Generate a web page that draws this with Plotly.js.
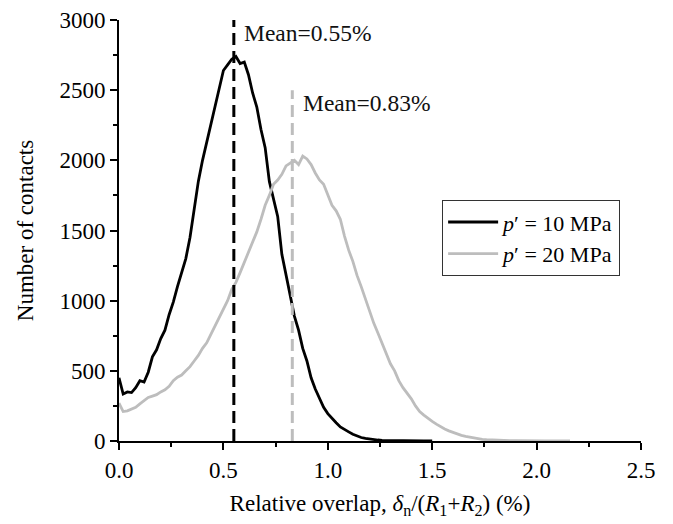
<!DOCTYPE html>
<html>
<head>
<meta charset="utf-8">
<script src="https://cdn.plot.ly/plotly-3.0.1.min.js"></script>
<style>html,body{margin:0;padding:0;background:#fff;}#chart{width:673px;height:524px;}</style>
</head>
<body>
<div id="chart"></div>
<script>
// Relative overlap (%) bins and contact counts
const overlap10 = [0.00,0.02,0.04,0.06,0.08,0.10,0.12,0.14,0.16,0.18,0.20,0.22,0.24,0.26,0.28,0.30,0.32,0.34,0.36,0.38,0.40,0.42,0.44,0.46,0.48,0.50,0.52,0.54,0.56,0.58,0.60,0.62,0.64,0.66,0.68,0.70,0.72,0.74,0.76,0.78,0.80,0.82,0.84,0.86,0.88,0.90,0.92,0.94,0.96,0.98,1.00,1.02,1.04,1.06,1.08,1.10,1.12,1.14,1.16,1.18,1.20,1.22,1.24,1.26,1.28,1.30,1.32,1.34,1.36,1.38,1.40,1.42,1.44,1.46,1.48,1.50];
const counts10 = [450,335,350,345,380,430,420,490,600,650,730,790,900,990,1100,1200,1300,1450,1660,1850,2000,2130,2270,2400,2520,2640,2680,2720,2740,2690,2700,2610,2480,2380,2220,2090,1850,1730,1600,1330,1180,1030,890,790,660,570,450,370,300,240,195,160,130,100,80,65,48,35,25,18,13,10,7,5,4,3,2,2,1,1,1,0,0,0,0,0];
const overlap20 = [0.00,0.02,0.04,0.06,0.08,0.10,0.12,0.14,0.16,0.18,0.20,0.22,0.24,0.26,0.28,0.30,0.32,0.34,0.36,0.38,0.40,0.42,0.44,0.46,0.48,0.50,0.52,0.54,0.56,0.58,0.60,0.62,0.64,0.66,0.68,0.70,0.72,0.74,0.76,0.78,0.80,0.82,0.84,0.86,0.88,0.90,0.92,0.94,0.96,0.98,1.00,1.02,1.04,1.06,1.08,1.10,1.12,1.14,1.16,1.18,1.20,1.22,1.24,1.26,1.28,1.30,1.32,1.34,1.36,1.38,1.40,1.42,1.44,1.46,1.48,1.50,1.52,1.54,1.56,1.58,1.60,1.62,1.64,1.66,1.68,1.70,1.72,1.74,1.76,1.78,1.80,1.82,1.84,1.86,1.88,1.90,1.92,1.94,1.96,1.98,2.00,2.02,2.04,2.06,2.08,2.10,2.12,2.14,2.16];
const counts20 = [270,210,215,230,240,265,285,310,320,330,350,365,390,430,455,470,500,530,570,610,660,700,760,820,870,940,1000,1080,1130,1200,1270,1340,1420,1490,1580,1680,1750,1830,1860,1900,1960,1980,2000,1970,2030,2010,1970,1910,1860,1830,1760,1680,1640,1580,1460,1360,1280,1180,1100,1010,920,840,770,700,620,550,500,430,380,340,300,250,210,185,160,140,120,100,85,72,60,50,40,33,27,20,15,12,9,7,5,4,3,3,2,2,1,1,1,1,1,0,0,0,0,0,0,0,0];
const seriesNames = ['<i>p</i>′ = 10 MPa', '<i>p</i>′ = 20 MPa'];
const meanValues = [0.55, 0.83];
const meanLineTops = [3000, 2500];
const meanLabelY = [2906, 2407];
const xTickVals = [0, 0.5, 1.0, 1.5, 2.0, 2.5];
const yTickVals = [0, 500, 1000, 1500, 2000, 2500, 3000];

const colors = ['#000000', '#bdbdbd'];
const font = 'Liberation Serif, Times New Roman, serif';

const traces = [
  {x: overlap10, y: counts10, name: seriesNames[0], type: 'scatter', mode: 'lines',
   line: {color: colors[0], width: 2.8}},
  {x: overlap20, y: counts20, name: seriesNames[1], type: 'scatter', mode: 'lines',
   line: {color: colors[1], width: 2.8}},
];
meanValues.forEach((m, i) => {
  traces.push({x: [m, m], y: [0, meanLineTops[i]], type: 'scatter', mode: 'lines',
    showlegend: false, hoverinfo: 'skip',
    line: {color: colors[i], width: 3, dash: '12px,6px'}});
});

const annotations = meanValues.map((m, i) => ({
  x: m + 0.04, y: meanLabelY[i], xref: 'x', yref: 'y',
  text: 'Mean=' + m.toFixed(2) + '%', showarrow: false,
  xanchor: 'left', yanchor: 'middle',
  font: {family: font, size: 23.5, color: '#111'}
}));

const axisCommon = {
  showline: true, linecolor: '#000', linewidth: 2,
  ticks: 'outside', ticklen: 7, tickwidth: 2, tickcolor: '#000',
  showgrid: false, zeroline: false, mirror: false,
  tickfont: {family: font, size: 23, color: '#000'},
};

const layout = {
  width: 673, height: 524,
  margin: {l: 119, r: 32, t: 20, b: 83},
  paper_bgcolor: '#fff', plot_bgcolor: '#fff',
  font: {family: font, color: '#000'},
  showlegend: true,
  legend: {
    x: 0.619, y: 0.572, xanchor: 'left', yanchor: 'top',
    bordercolor: '#333', borderwidth: 1, bgcolor: '#fff',
    font: {family: font, size: 22, color: '#000'},
    tracegroupgap: 0, itemwidth: 50
  },
  xaxis: Object.assign({}, axisCommon, {
    range: [0, 2.5], tickvals: xTickVals, tickformat: '.1f',
    minor: {dtick: 0.25, ticks: 'outside', ticklen: 4, tickwidth: 2, tickcolor: '#000'},
    title: {text: 'Relative overlap, <i>δ</i><sub>n</sub>/(<i>R</i><sub>1</sub>+<i>R</i><sub>2</sub>) (%)',
      font: {family: font, size: 23, color: '#000'}, standoff: 13}
  }),
  yaxis: Object.assign({}, axisCommon, {
    range: [0, 3000], tickvals: yTickVals,
    minor: {dtick: 250, ticks: 'outside', ticklen: 4, tickwidth: 2, tickcolor: '#000'},
    title: {text: 'Number of contacts', font: {family: font, size: 23, color: '#000'}, standoff: 19}
  }),
  annotations: annotations
};

Plotly.newPlot('chart', traces, layout, {displayModeBar: false, staticPlot: true});
</script>
</body>
</html>
